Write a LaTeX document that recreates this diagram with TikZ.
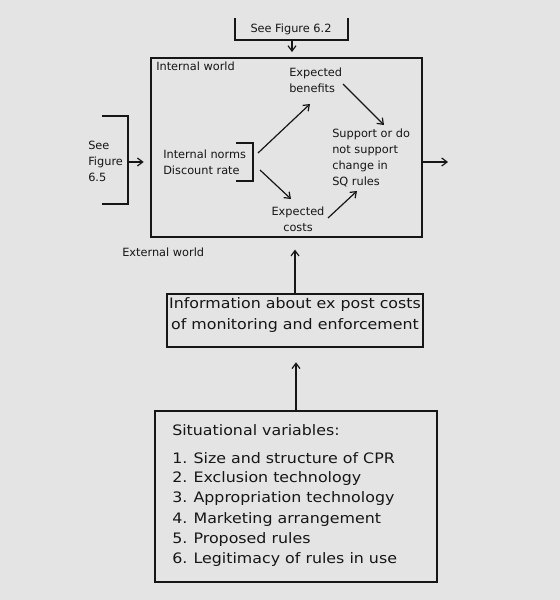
\documentclass[tikz,border=0pt]{standalone}
\usepackage{fontspec}
\setmainfont{DejaVu Sans}
\newfontfamily\widefont{DejaVu Sans}[FakeStretch=1.1]
\usepackage{tikz}
\usetikzlibrary{arrows.meta, positioning, calc, fit}
\definecolor{ink}{HTML}{161616}
\definecolor{paper}{HTML}{E4E4E4}

\begin{document}
\begin{tikzpicture}[x=0.75pt, y=-0.75pt,
  box/.style={draw=ink, line width=0.9pt, inner sep=0pt},
  link/.style={-{Straight Barb[length=4pt, width=6pt]}, line width=0.9pt, draw=ink},
  bracket/.style={draw=ink, line width=0.9pt},
  small/.style={font=\fontsize{8.5}{12}\selectfont, text=ink, inner sep=0pt},
  big/.style={font=\widefont\fontsize{10.8}{15.3}\selectfont, text=ink, inner sep=0pt}]
% Paper
\fill[paper] (0,0) rectangle (560,600);
\useasboundingbox (0,0) rectangle (560,600);

% See Figure 6.2
\node[small] (fig62) at (291,29) {See Figure 6.2};
\draw[bracket] (235,18) -- (235,40) -- (348,40) -- (348,18);
\coordinate (br62) at (292,40);

% Internal world
\node[box, fit={(151,58) (422,237)}] (inner) {};
\draw[link, shorten >=4pt] (br62) -- (br62 |- inner.north);
\node[small, anchor=north west] (intlab) at (156,62) {Internal world};
\node[small, align=left, anchor=north west] (benefits) at (289,68) {Expected\\benefits};
\node[small, align=left, anchor=west] (norms) at (163,162) {Internal norms\\Discount rate};
\draw[bracket] (236,143) -- (253,143) -- (253,181) -- (236,181);
\node[small, align=center] (costs) at (298,219) {Expected\\costs};
\node[small, align=left, anchor=north west] (support) at (332,129) {Support or do\\not support\\change in\\SQ rules};

% Arrows inside
\coordinate (nbup) at (258,153);
\coordinate (nbdn) at (260,170);
\coordinate (benin) at (310,104);
\coordinate (benout) at (343,84);
\coordinate (costin) at (291,199);
\coordinate (costout) at (328,218);
\coordinate (supin) at (384,125);
\coordinate (supin2) at (357,191);
\draw[link] (nbup) -- (benin);
\draw[link] (benout) -- (supin);
\draw[link] (nbdn) -- (costin);
\draw[link] (costout) -- (supin2);

% See Figure 6.5
\node[small, align=left, anchor=west] (fig65) at (88,161) {See\\Figure\\6.5};
\draw[bracket] (102,116) -- (128,116) -- (128,204) -- (102,204);
\coordinate (br65) at (128,162);
\draw[link, shorten >=5pt] (br65) -- (br65 -| inner.west);

% Out
\coordinate (outtip) at (448,162);
\draw[link] (outtip -| inner.east) -- (outtip);

% External world
\node[small, anchor=west] (extlab) at (122,252) {External world};

% Information
\node[box, big, align=center, fit={(167,294) (423,347)}] (info) {Information about ex post costs\\of monitoring and enforcement};
\draw[link, shorten >=9pt] (info.north) -- (info.north |- inner.south);

% Situational variables
\node[box, fit={(155,411) (437,582)}] (sit) {};
\draw[link, shorten >=11pt] (sit.north) -- (sit.north |- info.south);
\node[big, anchor=west] (sithead) at (172,430) {Situational variables:};
\node[big, anchor=west] (item1) at (172,458) {\makebox[16pt][l]{1.}Size and structure of CPR};
\node[big, anchor=west] (item2) at (172,478.4) {\makebox[16pt][l]{2.}Exclusion technology};
\node[big, anchor=west] (item3) at (172,498.8) {\makebox[16pt][l]{3.}Appropriation technology};
\node[big, anchor=west] (item4) at (172,519.2) {\makebox[16pt][l]{4.}Marketing arrangement};
\node[big, anchor=west] (item5) at (172,539.6) {\makebox[16pt][l]{5.}Proposed rules};
\node[big, anchor=west] (item6) at (172,560) {\makebox[16pt][l]{6.}Legitimacy of rules in use};
\end{tikzpicture}
\end{document}
